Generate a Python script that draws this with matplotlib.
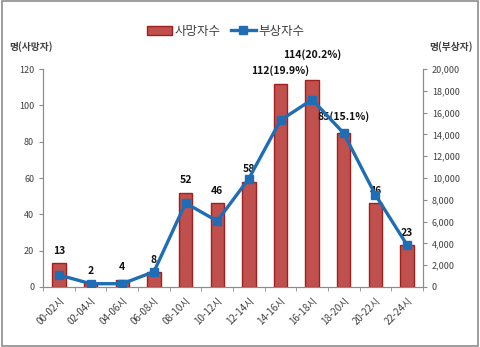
import matplotlib.pyplot as plt
import numpy as np
from matplotlib.patches import Rectangle

plt.rcParams['font.family'] = ['Noto Sans CJK KR', 'DejaVu Sans']

hours = ['00-02시', '02-04시', '04-06시', '06-08시', '08-10시', '10-12시',
         '12-14시', '14-16시', '16-18시', '18-20시', '20-22시', '22-24시']
deaths = [13, 2, 4, 8, 52, 46, 58, 112, 114, 85, 46, 23]
death_share = {7: 19.9, 8: 20.2, 9: 15.1}
injured = [1100, 300, 300, 1400, 7700, 6050, 9950, 15300, 17200, 14100, 8450, 3850]

fig = plt.figure(figsize=(4.8, 3.47), dpi=100)
fig.patches.append(Rectangle((0.004, 0.004), 0.992, 0.992, transform=fig.transFigure,
                             fill=False, edgecolor='#8c8c8c', linewidth=1.2))

ax = fig.add_axes([0.09, 0.173, 0.791, 0.628])
x = np.arange(len(hours))
bars = ax.bar(x, deaths, width=0.42, color='#C0504D', edgecolor='#A0201E',
              linewidth=1.0, label='사망자수', zorder=2)
ax.set_xlim(-0.5, len(hours) - 0.5)
ax.set_ylim(0, 120)
ax.set_yticks(range(0, 121, 20))

ax2 = ax.twinx()
ax2.plot(x, injured, color='#1F6DB5', linewidth=2.4, marker='s', markersize=5.5,
         label='부상자수', zorder=3)
ax2.set_ylim(0, 20000)
ax2.set_yticks(range(0, 20001, 2000))
ax2.set_yticklabels([f'{v:,}' for v in range(0, 20001, 2000)])

# death count labels above bars
for i, d in enumerate(deaths):
    txt = f'{d}({death_share[i]}%)' if i in death_share else str(d)
    off = 4
    if i == 8:
        off = 11
    elif i == 9:
        off = 6
    ax.text(i, d + off, txt, ha='center', va='bottom', fontsize=7.5,
            fontweight='bold', color='#111111', zorder=5, clip_on=False)

for a in (ax, ax2):
    a.spines['top'].set_visible(False)
    for s in ('left', 'right', 'bottom'):
        a.spines[s].set_color('#8c8c8c')
    a.tick_params(axis='y', labelsize=6.5, labelcolor='#404040', color='#8c8c8c', length=3)

ax.set_xticks(x)
ax.set_xticklabels(hours, rotation=45, ha='right', rotation_mode='anchor',
                   fontsize=7, color='#404040')
ax.set_xticks(np.arange(-0.5, len(hours), 1), minor=True)
ax.tick_params(axis='x', which='major', length=0, pad=6)
ax.tick_params(axis='x', which='minor', length=3, color='#8c8c8c')

fig.text(0.02, 0.855, '명(사망자)', fontsize=7, fontweight='bold', color='#404040')
fig.text(0.985, 0.855, '명(부상자)', fontsize=7, fontweight='bold', color='#404040', ha='right')

h1, l1 = ax.get_legend_handles_labels()
h2, l2 = ax2.get_legend_handles_labels()
fig.legend(h1 + h2, l1 + l2, loc='center', bbox_to_anchor=(0.47, 0.91), ncol=2,
           frameon=False, fontsize=9, labelcolor='#404040', handlelength=2.0,
           handletextpad=0.2, columnspacing=0.8)

fig.savefig('out.png', dpi=100)
